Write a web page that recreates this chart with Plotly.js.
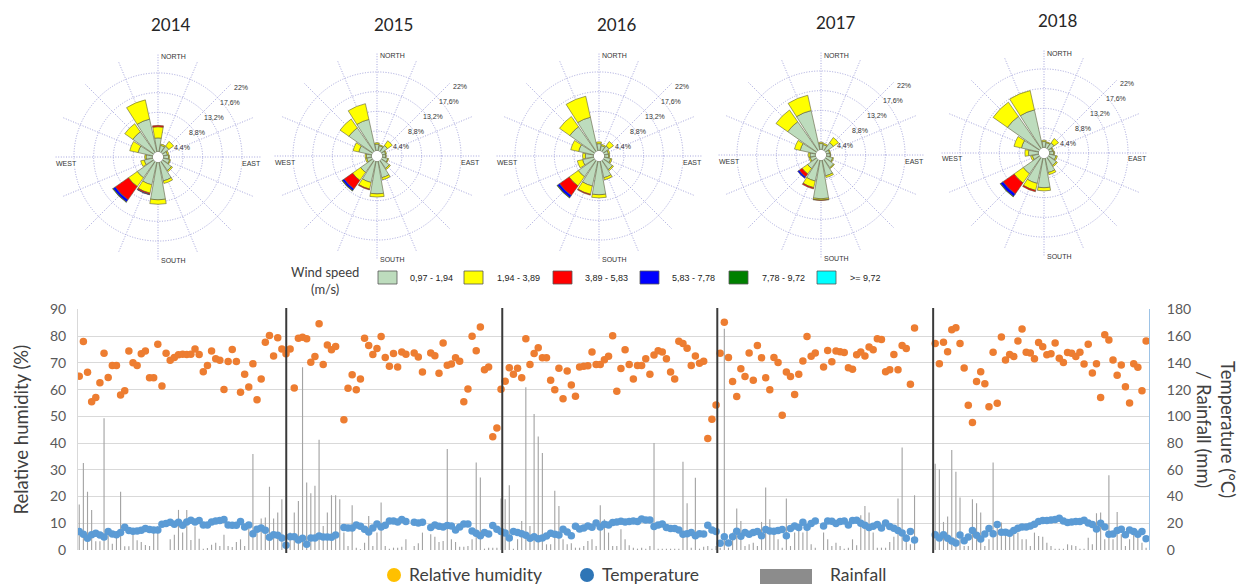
<!DOCTYPE html>
<html><head><meta charset="utf-8">
<script src="https://cdn.plot.ly/plotly-3.0.1.min.js"></script>
<style>html,body{margin:0;padding:0;background:#fff}#chart{width:1240px;height:585px}</style>
</head><body><div id="chart"></div>
<script>
// ---------- wind rose data (% of time per direction, per speed class) ----------
const years = ['2014', '2015', '2016', '2017', '2018'];
const directions = ['N','NNE','NE','ENE','E','ESE','SE','SSE','S','SSW','SW','WSW','W','WNW','NW','NNW'];
const dirAngles = [0,22.5,45,67.5,90,112.5,135,157.5,180,202.5,225,247.5,270,292.5,315,337.5];
const speedClasses = ['0,97 - 1,94','1,94 - 3,89','3,89 - 5,83','5,83 - 7,78','7,78 - 9,72','>= 9,72'];
const speedColors = ['#bddcbd','#ffff00','#ff0000','#0000ff','#008000','#00ffff'];
const radialTicks = [4.4, 8.8, 13.2, 17.6, 22];
const radialTickText = ['4,4%','8,8%','13,2%','17,6%','22%'];

const rose2014 = [
  [3.1,1.5,1.8,1.0,1.2,1.5,2.5,4.3,8.4,5.2,4.5,2.0,1.5,3.4,5.7,7.5],
  [2.5,0.3,1.3,0.3,0.2,0.2,0.3,0.6,1.0,1.9,2.4,0.8,0.3,1.9,2.2,4.4],
  [0.3,0,0,0,0,0,0,0,0,0.3,3.6,0,0,0,0,0],
  [0,0,0,0,0,0,0,0,0,0.1,0.6,0,0,0,0,0],
  [0,0,0,0,0,0,0,0,0,0,0.1,0,0,0,0,0],
  [0,0,0,0,0,0,0,0,0,0,0,0,0,0,0,0]
];
const rose2015 = [
  [1.5,1.2,1.7,0.8,0.8,1.3,2.2,3.8,7.3,4.9,3.3,1.2,1.2,3.0,6.5,7.2],
  [0.3,0.2,1.3,0.2,0.1,0.2,0.3,0.5,0.7,1.5,2.2,0.3,0.3,1.3,2.4,3.6],
  [0,0,0,0,0,0,0,0,0,0.2,2.3,0,0,0,0,0],
  [0,0,0,0,0,0,0,0,0,0,0.5,0,0,0,0,0],
  [0,0,0,0,0,0,0,0,0,0,0.1,0,0,0,0,0],
  [0,0,0,0,0,0,0,0,0,0,0,0,0,0,0,0]
];
const rose2016 = [
  [1.6,1.2,1.6,1.0,1.0,1.5,2.5,3.8,7.5,5.7,4.5,2.6,1.9,3.5,6.8,7.7],
  [0.4,0.3,1.2,0.3,0.2,0.3,0.3,0.5,0.7,1.9,2.5,1.2,0.6,1.8,2.8,4.8],
  [0,0,0,0,0,0,0,0,0,0.2,2.6,0,0,0,0,0],
  [0,0,0,0,0,0,0,0,0,0,0.6,0,0,0,0,0],
  [0,0,0,0,0,0,0,0,0,0,0.1,0,0,0,0,0],
  [0,0,0,0,0,0,0,0,0,0,0,0,0,0,0,0]
];
const rose2017 = [
  [1.4,1.2,2.2,0.8,0.9,1.5,2.3,3.6,8.6,4.8,2.5,1.3,1.3,3.6,7.9,9.0],
  [0.3,0.3,1.4,0.2,0.1,0.2,0.2,0.4,0.3,1.5,1.5,0.3,0.4,1.3,3.2,3.5],
  [0,0,0,0,0,0,0,0,0.1,0.3,0.8,0,0,0,0,0],
  [0,0,0,0,0,0,0,0,0,0,0.4,0,0,0,0,0],
  [0,0,0,0,0,0,0,0,0,0,0,0,0,0,0,0],
  [0,0,0,0,0,0,0,0,0,0,0,0,0,0,0,0]
];
const rose2018 = [
  [1.4,1.2,1.6,0.8,1.0,1.6,2.2,3.3,6.6,5.8,4.5,1.5,2.3,4.0,8.8,8.7],
  [0.3,0.2,1.2,0.2,0.2,0.3,0.3,0.5,0.7,1.6,2.5,0.4,0.8,1.7,3.9,4.4],
  [0,0,0,0,0,0,0,0,0,0.3,3.0,0,0,0,0,0],
  [0,0,0,0,0,0,0,0,0,0,0.7,0,0,0,0,0],
  [0,0,0,0,0,0,0,0,0,0,0.1,0,0,0,0,0],
  [0,0,0,0,0,0,0,0,0,0,0,0,0,0,0,0]
];
const roses = [rose2014, rose2015, rose2016, rose2017, rose2018];

// ---------- weekly series ----------
const hum2014 = [65,78,66.5,55.5,57,62.6,73.6,64.5,69,69,58,59.6,74.4,70,69,73.4,74.4,64.4,64.4,77,61.3,73.6,71,72,73,73.2,73.1,73.2,75.2,73.1,66.7,69,74.4,71.5,71,60,70.5,75,70.5,59,65.7,61,69.7,56.2,64,77.7,80.2,72.6,79.4,75.2,73.4];
const hum2015 = [75.2,60.6,79.2,79.6,79,70.2,72.4,84.6,69.4,76.7,74.9,76.1,null,48.7,60.5,65.6,59.9,64,79.2,76.5,73.1,75.4,79.9,72,68.7,73.5,68.5,74.1,73.2,null,73.7,72.2,66.6,null,73.7,72.7,66.1,77.4,69.1,69.6,71.9,70.6,55.5,60.2,80,74.5,83.4,67.4,68.5,42.4,45.6,60.1];
const hum2016 = [63.1,68.2,65.7,68,64.4,79,69.4,73.5,75.7,71.9,71.9,63.5,59.9,68,56.6,67,61.7,57.5,68.5,68.7,68.9,74.1,69.4,69.4,71.2,72.5,80.1,59.4,67.9,74.9,69.4,64,69,69,71.5,65.7,72.9,74.5,74.1,71.5,66.6,64,78.1,77.2,75.5,69,72.6,69.9,70.6,41.7,48.9,54.2];
const hum2017 = [73.6,85.2,72,63,57.4,67.8,64.9,73.7,63.5,76.5,71.9,64.4,59.9,72,70.1,50.4,66.6,64.9,58.2,65.7,70.7,79.9,72.5,73.7,null,68.5,74.6,70.4,74.4,74.2,73.9,68.2,67.6,73,74.1,72.6,75.9,74.9,79,78.7,66.7,67.4,73.1,67.4,76.5,75.4,62,83,null,null,null,null];
const hum2018 = [77.2,69.7,77.7,74.2,82.4,83.1,77.2,68.1,54.1,47.7,63,66.7,62.2,53.6,74,54.9,79.7,71.1,73.1,72.4,78.2,82.7,74,73.7,71.5,77.6,76,73,73.4,77.4,71.7,70.1,73.9,73.6,72.4,74,69.6,77,66.2,69.7,57,80.5,78.6,71.1,65.4,69.2,61.1,55,69.7,68.4,59.6,78.2];

const temp2014 = [13.75,11.75,8.75,11.5,12.5,11.25,9.75,13.75,12,11.5,13,17,14.5,14,14.25,14.75,16,15.25,15,15,19.25,19.75,20.75,19.25,20.75,18.5,21,22.25,21,22,18.75,18.75,21,21.75,22,22.75,18.75,18.5,18.5,21.25,17.25,18.75,12.25,15.5,16.5,14.75,9.5,11.5,11,9,3.5];
const temp2015 = [10,10,7.5,8.75,4.25,9,9,10.5,9.75,9.75,9.5,11.25,null,16.75,16.5,16.5,18.75,17.75,15.5,13.5,16.5,19.5,17.25,18.5,21.75,21.75,21,22.75,21.25,null,20.75,20.25,20.75,null,16.75,18.75,17.75,17.25,18.25,18,15,17.25,19.5,19.5,14.25,12.5,10.75,13,12,18.25,15.5,13.75];
const temp2016 = [12.75,9,13.75,13,12.25,11,8.75,10,8.5,9,10.5,12.5,11.75,11.25,15.5,13.5,10.75,17.75,15.75,16.5,18,17,20.25,17.25,19.25,18.75,20.5,21,21.5,21,21.25,21.75,21.25,23.25,22.5,22.5,17.5,18.75,19.5,16.75,16,16,15,11.75,12.25,13,10.75,12.25,12,18.5,15,13.75];
const temp2017 = [5,10,5.25,10,14,10.25,13,11.75,13,13.75,10.75,15.25,14.25,14,14.5,15.25,10.75,16,18,16.75,20.75,17,19.75,21.75,null,18,21.75,21.5,19.75,21.25,21.75,18.75,22,22.25,20,18.5,16.75,17.75,19,16.5,20.25,17.5,16.25,14.5,12.75,8.75,13.75,7.5,null,null,null,null];
const temp2018 = [11.5,9,11.5,8.75,6.75,5.25,11.25,7,9.75,14.5,11,8.25,12,16,12.25,19,13.25,13.25,12.5,14.5,16.25,17.25,17.25,18,19.25,21.25,22,22,22.5,22.75,23.75,21.75,20.5,21,21.25,21.25,22.25,20.25,19,15.75,20,17.25,11.75,12,14.5,15.5,11.5,15,13.75,11.75,13.75,8.5];

const rain2014 = [34,65,43.5,30,6.5,6.5,98.5,15.5,4.75,11.75,43.5,2.75,2.75,13.5,7.25,6,3.75,3,16,18,0,0,8,11.5,30,13,30,7.5,17.5,8.5,1,1.5,4,5.5,3,11.5,3,2.25,6,8,3,16,71.75,13,23.5,24.25,47.25,23.5,28,38,1];
const rain2015 = [13,28,36.75,136.75,50.5,42.5,48,82.5,18,28,41,41,38,13,3,33.5,1.75,0.5,5.5,25.5,3,13,35.5,3,1,1.75,1.75,2.5,8,null,3,5,13,null,11.75,10,6,6.75,75.5,8,6,2.5,2.5,3,8,65.5,54.25,1,1.75,1.75,1.75,38.5];
const rain2016 = [38,48.5,1,8,21.75,121.75,18,101.75,85,72.5,4.25,4.25,44.25,33,8,4.25,5,1.75,1.75,3,6.75,8,3,33.5,23,13,3,3,15.5,8,3.5,1.75,1,1.75,1,3,80,1,1,1,1,1,1,66,35,1.75,54,1,2.5,3,1,3];
const rain2017 = [1.75,165.5,1.75,13,31,21.75,3,4.25,5.5,3,21,46.75,23,13,8,1.75,38.5,3,13,18,13,15.5,4.25,1.75,null,13,8,3,5.5,3,1,1.75,8,3.5,26,33,28,13,1.75,1.75,1.75,6,10,38.5,76.75,11.75,4.25,41,null,null,null,null];
const rain2018 = [64.5,60.5,21,25,74.75,58.5,39.25,3,3,38,35,28,3,8,65.5,21.75,20.5,13,11.75,15.5,13,8,8,3,13,10.5,10,5.5,3,1,1,1,4.25,3.5,3,1,1,9.25,4.25,27.5,28,8,56,8,28.5,11.75,3,8,13,13,5.5,1.75];

const humidity = [].concat(hum2014, hum2015, hum2016, hum2017, hum2018);
const temperature = [].concat(temp2014, temp2015, temp2016, temp2017, temp2018);
const rainfall = [].concat(rain2014, rain2015, rain2016, rain2017, rain2018);
const week = humidity.map((_, i) => i);

// ---------- layout helpers (pixel -> paper) ----------
const W = 1240, H = 585;
const px = x => x / W;
const py = y => 1 - y / H;
const roseCenters = [[158,157],[377,156],[599,156],[821,155],[1044,153]];
const roseTitlePos = [[171,25],[393,25],[617,25],[836,23],[1058,21]];
const radialLabelOffsets = [[24,-9.5],[39,-24.5],[56,-39.5],[71.5,-54.5],[83,-69.5]];
const R = 104;

const gridCol = '#a4a4dc';
const gridDash = '1px,1.6px';
const traces = [];
const layout = {
  width: W, height: H,
  margin: {l:0, r:0, t:0, b:0},
  paper_bgcolor: '#ffffff', plot_bgcolor: '#ffffff',
  showlegend: false,
  font: {family: 'Lato, "Open Sans", sans-serif', color: '#404040'},
  annotations: [], shapes: []
};
const small = {family: '"Liberation Sans", Arial, sans-serif', size: 7, color: '#333333'};

roses.forEach((rose, k) => {
  const sp = k === 0 ? 'polar' : 'polar' + (k + 1);
  rose.forEach((vals, c) => {
    const th = [], rr = [];
    vals.forEach((v, j) => { if (v > 0) { th.push(dirAngles[j]); rr.push(v); } });
    if (!rr.length) return;
    traces.push({
      type: 'barpolar', subplot: sp, name: speedClasses[c],
      r: rr, theta: th, width: 20,
      marker: {color: speedColors[c], line: {color: '#5f5f3f', width: 0.6}},
      hoverinfo: 'r+theta+name'
    });
  });
  const [cx, cy] = roseCenters[k];
  layout[sp] = {
    domain: {x: [px(cx - R), px(cx + R)], y: [py(cy + R), py(cy - R)]},
    hole: 0.05, bgcolor: 'rgba(0,0,0,0)', barmode: 'stack',
    angularaxis: {rotation: 90, direction: 'clockwise', tickmode: 'array', tickvals: dirAngles,
      showticklabels: false, ticks: '', showline: false, gridcolor: gridCol, griddash: gridDash, gridwidth: 1},
    radialaxis: {range: [0, 22.05], tickmode: 'array', tickvals: radialTicks, ticktext: radialTickText,
      showline: false, showticklabels: false, ticks: '', gridcolor: gridCol, griddash: gridDash, gridwidth: 1}
  };
  radialTickText.forEach((t, i) => layout.annotations.push({text: t,
    x: px(cx + radialLabelOffsets[i][0]), y: py(cy + radialLabelOffsets[i][1]), xref: 'paper', yref: 'paper',
    showarrow: false, font: small, xanchor: 'center', yanchor: 'middle'}));
  layout.annotations.push(
    {text: years[k], x: px(roseTitlePos[k][0]), y: py(roseTitlePos[k][1]), xref: 'paper', yref: 'paper',
     showarrow: false, font: {size: 17, color: '#262626'}, xanchor: 'center', yanchor: 'middle'},
    {text: 'NORTH', x: px(cx + 2), y: py(cy - R + 4), xref: 'paper', yref: 'paper', showarrow: false,
     font: small, xanchor: 'left', yanchor: 'middle', bgcolor: '#fff', borderpad: 0},
    {text: 'SOUTH', x: px(cx + 2), y: py(cy + R - 1), xref: 'paper', yref: 'paper', showarrow: false,
     font: small, xanchor: 'left', yanchor: 'middle', bgcolor: '#fff', borderpad: 0},
    {text: 'EAST', x: px(cx + R), y: py(cy + 6), xref: 'paper', yref: 'paper', showarrow: false,
     font: small, xanchor: 'right', yanchor: 'middle', bgcolor: '#fff', borderpad: 0},
    {text: 'WEST', x: px(cx - R + 1), y: py(cy + 6), xref: 'paper', yref: 'paper', showarrow: false,
     font: small, xanchor: 'left', yanchor: 'middle', bgcolor: '#fff', borderpad: 0}
  );
});

// ---------- wind speed legend ----------
layout.annotations.push({text: 'Wind speed<br>(m/s)', x: px(325), y: py(280), xref: 'paper', yref: 'paper',
  showarrow: false, font: {size: 13, color: '#404040'}, xanchor: 'center', yanchor: 'middle'});
const legSqX = [378, 464, 553, 640, 729, 817];
const legTxtX = [408, 495, 583, 670, 760, 848];
speedClasses.forEach((s, i) => {
  layout.shapes.push({type: 'rect', xref: 'paper', yref: 'paper', x0: px(legSqX[i]), x1: px(legSqX[i] + 19),
    y0: py(284), y1: py(271), fillcolor: speedColors[i], line: {color: '#555', width: 0.8}});
  layout.annotations.push({text: s, x: px(legTxtX[i]), y: py(278), xref: 'paper', yref: 'paper',
    showarrow: false, xanchor: 'left', yanchor: 'middle',
    font: {family: '"Liberation Sans", Arial, sans-serif', size: 9, color: '#222'}});
});

// ---------- bottom time-series chart ----------
traces.push({type: 'bar', x: week, y: rainfall, yaxis: 'y2', name: 'Rainfall', width: 0.27,
  marker: {color: '#a3a3a3', line: {width: 0}}});
traces.push({type: 'scatter', mode: 'markers', x: week, y: humidity, name: 'Relative humidity',
  marker: {color: '#ed7d31', size: 7.5}});
traces.push({type: 'scatter', mode: 'markers', x: week, y: temperature, yaxis: 'y2', name: 'Temperature',
  marker: {color: '#5b9bd5', size: 7.5}});

const tickF = {size: 14, color: '#595959'};
layout.xaxis = {domain: [px(78), px(1149)], range: [-0.3, 258.7], showgrid: false, zeroline: false,
  showticklabels: false, ticks: '', showline: false};
layout.yaxis = {domain: [py(550), py(309.4)], range: [0, 90], dtick: 10, gridcolor: '#d9d9d9', gridwidth: 1,
  zeroline: false, showline: true, linecolor: '#d9d9d9', ticks: '', tickfont: tickF, ticklabelstandoff: 8,
  title: {text: 'Relative humidity (%)', font: {size: 18.5, color: '#404040'}, standoff: 16}};
layout.yaxis2 = {overlaying: 'y', side: 'right', range: [0, 180], dtick: 20, showgrid: false, zeroline: false,
  showline: true, linecolor: '#9dc3e6', linewidth: 1, ticks: '', tickfont: tickF, ticklabelstandoff: 14};
layout.annotations.push({text: 'Temperature (\u00b0C)<br>/ Rainfall (mm)', textangle: 90,
  x: px(1216), y: py(429), xref: 'paper', yref: 'paper', showarrow: false,
  font: {size: 18.5, color: '#404040'}, xanchor: 'center', yanchor: 'middle'});

// year separators
const sepX = [50.06, 102.3, 154.3, 206.5];
sepX.forEach(x => layout.shapes.push({type: 'line', xref: 'x', yref: 'paper', x0: x, x1: x,
  y0: py(553), y1: py(308), line: {color: '#3a3a3a', width: 2}}));

// bottom legend
layout.shapes.push(
  {type: 'circle', xref: 'paper', yref: 'paper', x0: px(387), x1: px(401), y0: py(582), y1: py(568),
   fillcolor: '#ffc000', line: {width: 0}},
  {type: 'circle', xref: 'paper', yref: 'paper', x0: px(580), x1: px(594), y0: py(582), y1: py(568),
   fillcolor: '#2e75b6', line: {width: 0}},
  {type: 'rect', xref: 'paper', yref: 'paper', x0: px(760), x1: px(812), y0: py(584), y1: py(569),
   fillcolor: '#8c8c8c', line: {width: 0}}
);
[['Relative humidity', 407], ['Temperature', 600], ['Rainfall', 828]].forEach(([t, x]) =>
  layout.annotations.push({text: t, x: px(x), y: py(574), xref: 'paper', yref: 'paper', showarrow: false,
    xanchor: 'left', yanchor: 'middle', font: {size: 17.5, color: '#404040'}}));

Plotly.newPlot('chart', traces, layout, {displayModeBar: false, staticPlot: true});
</script></body></html>
